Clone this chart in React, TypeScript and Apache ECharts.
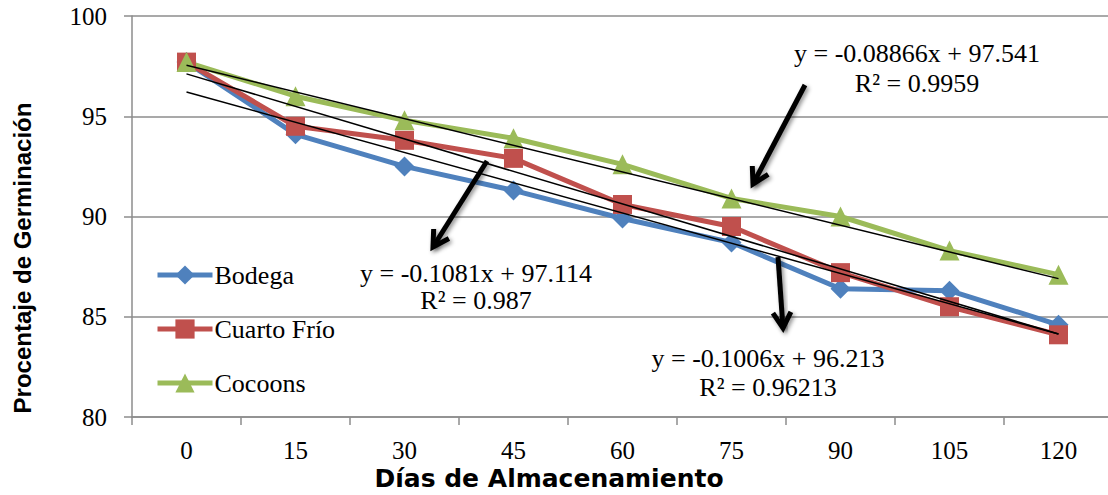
import React, { useEffect, useRef } from "react";
import * as echarts from "echarts";

const categories = ["0", "15", "30", "45", "60", "75", "90", "105", "120"];
const bodega = [97.7, 94.1, 92.5, 91.3, 89.9, 88.7, 86.4, 86.3, 84.6];
const cuartoFrio = [97.7, 94.5, 93.8, 92.9, 90.6, 89.5, 87.2, 85.5, 84.1];
const cocoons = [97.7, 96.0, 94.8, 93.9, 92.6, 90.9, 90.0, 88.3, 87.1];

// trend line endpoints (day 0 and day 120) read from the displayed equations
const trendBodega = [97.114, 84.142];
const trendCuarto = [96.213, 84.141];
const trendCocoons = [97.541, 86.902];

const eqTexts = [
  ["y = -0.08866x + 97.541", "R² = 0.9959"],
  ["y = -0.1081x + 97.114", "R² = 0.987"],
  ["y = -0.1006x + 96.213", "R² = 0.96213"],
];

const xTitle = "Días de Almacenamiento";
const yTitle = "Procentaje de Germinación";

const serif = "'Times New Roman', 'Liberation Serif', serif";
const sans = "Arial, 'Liberation Sans', sans-serif";
const wideSans = "'DejaVu Sans', Arial, sans-serif";

function endpoints(t: number[]) {
  const arr: (number | null)[] = categories.map(() => null);
  arr[0] = t[0];
  arr[arr.length - 1] = t[1];
  return arr;
}

function arrow(x1: number, y1: number, x2: number, y2: number) {
  const ang = Math.atan2(y2 - y1, x2 - x1);
  const L = 18;
  const a = Math.PI / 6;
  const w1 = [x2 - L * Math.cos(ang - a), y2 - L * Math.sin(ang - a)];
  const w2 = [x2 - L * Math.cos(ang + a), y2 - L * Math.sin(ang + a)];
  const style = {
    stroke: "#000",
    lineWidth: 5,
    shadowBlur: 4,
    shadowColor: "rgba(0,0,0,0.45)",
    shadowOffsetX: 2,
    shadowOffsetY: 2,
  };
  return [
    { type: "line", shape: { x1, y1, x2, y2 }, style, z: 100 },
    {
      type: "polyline",
      shape: { points: [w1, [x2, y2], w2] },
      style: { ...style, fill: null },
      z: 100,
    },
  ];
}

export default function App() {
  const ref = useRef<HTMLDivElement>(null);
  useEffect(() => {
    if (!ref.current) return;
    const chart = echarts.init(ref.current, undefined, { renderer: "svg" });
    const lineSeries = (name: string, data: number[], color: string, symbol: string, size: number) => ({
      name,
      type: "line",
      data,
      symbol,
      symbolSize: size,
      lineStyle: { color, width: 5 },
      itemStyle: { color },
      z: 2,
    });
    const trend = (t: number[]) => ({
      type: "line",
      data: endpoints(t),
      connectNulls: true,
      symbol: "none",
      lineStyle: { color: "#000", width: 1.5 },
      z: 5,
      silent: true,
    });
    const txt = (x: number, y: number, text: string, font = `26px ${serif}`, rotation = 0) => ({
      type: "text",
      x,
      y,
      rotation,
      style: { fill: "#000", font, text, textAlign: "center", textVerticalAlign: "middle", verticalAlign: "middle" },
      z: 100,
    });
    chart.setOption({
      animation: false,
      backgroundColor: "#fff",
      grid: { left: 132, top: 16, bottom: 78, right: -5, outerBoundsMode: "none", containLabel: false },
      legend: {
        data: ["Bodega", "Cuarto Frío", "Cocoons"],
        orient: "vertical",
        left: 155,
        top: 262,
        padding: 0,
        itemWidth: 55,
        itemHeight: 24,
        itemGap: 28,
        lineStyle: { width: 5 },
        textStyle: { fontFamily: serif, fontSize: 26, color: "#000", padding: [0, 0, 0, -3] },
      },
      xAxis: {
        type: "category",
        data: categories,
        boundaryGap: true,
        axisLine: { lineStyle: { color: "#8c8c8c", width: 1.5 } },
        axisTick: { show: true, length: 8, lineStyle: { color: "#8c8c8c", width: 1.5 } },
        axisLabel: { fontFamily: serif, fontSize: 25, color: "#000", margin: 21 },
      },
      yAxis: {
        type: "value",
        min: 80,
        max: 100,
        interval: 5,
        axisLine: { show: true, lineStyle: { color: "#8c8c8c", width: 1.5 } },
        axisTick: { show: true, length: 8, lineStyle: { color: "#8c8c8c", width: 1.5 } },
        axisLabel: { fontFamily: serif, fontSize: 25, color: "#000", margin: 25 },
        splitLine: { lineStyle: { color: "#8c8c8c", width: 1.5 } },
      },
      series: [
        lineSeries("Bodega", bodega, "#4F81BD", "diamond", 20),
        lineSeries("Cuarto Frío", cuartoFrio, "#C0504D", "rect", 19),
        lineSeries("Cocoons", cocoons, "#9BBB59", "triangle", 20),
        trend(trendBodega),
        trend(trendCuarto),
        trend(trendCocoons),
      ],
      graphic: [
        ...arrow(805, 85, 753, 184),
        ...arrow(487, 161, 433, 247),
        ...arrow(778, 257, 783, 328),
        txt(917, 53, eqTexts[0][0]),
        txt(917, 83, eqTexts[0][1]),
        txt(476, 273, eqTexts[1][0]),
        txt(476, 300, eqTexts[1][1]),
        txt(768, 358, eqTexts[2][0]),
        txt(768, 387, eqTexts[2][1]),
        txt(549, 478, xTitle, `bold 25px ${wideSans}`),
        txt(22, 258, yTitle, `bold 24px ${sans}`, Math.PI / 2),
      ],
    });
    return () => chart.dispose();
  }, []);
  return <div ref={ref} style={{ width: 1108, height: 495, position: "absolute", left: 0, top: 0 }} />;
}
